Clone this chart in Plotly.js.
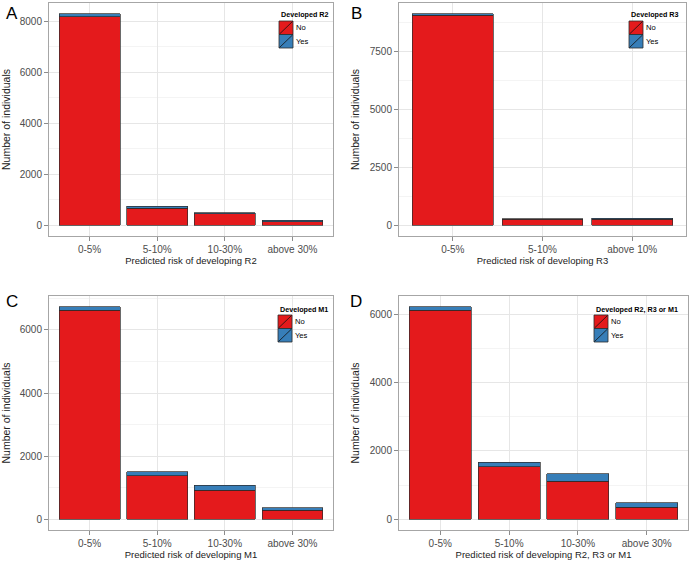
<!DOCTYPE html>
<html>
<head>
<meta charset="utf-8">
<script src="https://cdn.plot.ly/plotly-3.0.1.min.js"></script>
<style>html,body{margin:0;padding:0;background:#fff;}#chart{width:690px;height:561px;}</style>
</head>
<body>
<div id="chart"></div>
<script>
// ---- data ----
var catsA = ['0-5%', '5-10%', '10-30%', 'above 30%'];
var noA = [8180, 680, 450, 140];
var yesA = [120, 75, 45, 55];

var catsB = ['0-5%', '5-10%', 'above 10%'];
var noB = [9040, 265, 275];
var yesB = [80, 20, 25];

var catsC = ['0-5%', '5-10%', '10-30%', 'above 30%'];
var noC = [6620, 1380, 930, 295];
var yesC = [120, 125, 155, 75];

var catsD = ['0-5%', '5-10%', '10-30%', 'above 30%'];
var noD = [6110, 1530, 1120, 350];
var yesD = [105, 145, 210, 135];

var xTitles = ['Predicted risk of developing R2', 'Predicted risk of developing R3',
               'Predicted risk of developing M1', 'Predicted risk of developing R2, R3 or M1'];
var legendTitles = ['Developed R2', 'Developed R3', 'Developed M1', 'Developed R2, R3 or M1'];
var panelLetters = ['A', 'B', 'C', 'D'];
var yDticks = [2000, 2500, 2000, 2000];

// ---- styling ----
var RED = '#E41A1C', BLUE = '#377EB8', EDGE = '#2b2b2b';
var W = 690, H = 561;
function px(x) { return x / W; }
function py(y) { return 1 - y / H; }

var panels = [
  {cats: catsA, no: noA, yes: yesA, dom: [[49, 333], [3, 236]], leg: [279, 15], letter: [4, 13]},
  {cats: catsB, no: noB, yes: yesB, dom: [[399, 686], [3, 236]], leg: [629, 15], letter: [349, 13]},
  {cats: catsC, no: noC, yes: yesC, dom: [[49, 333], [296, 530]], leg: [278, 309], letter: [4, 301]},
  {cats: catsD, no: noD, yes: yesD, dom: [[399, 688], [296, 530]], leg: [594, 309], letter: [348, 301]}
];

var traces = [], shapes = [], annotations = [];
var layout = {
  width: W, height: H,
  margin: {l: 0, r: 0, t: 0, b: 0},
  paper_bgcolor: '#ffffff', plot_bgcolor: '#ffffff',
  barmode: 'stack', bargap: 0.1,
  showlegend: false,
  font: {family: 'Liberation Sans, Arial, sans-serif', color: '#000'}
};

panels.forEach(function (p, i) {
  var s = i === 0 ? '' : String(i + 1);
  var xa = 'x' + s, ya = 'y' + s;
  traces.push({type: 'bar', x: p.cats, y: p.no, name: 'No', xaxis: xa, yaxis: ya,
    marker: {color: RED, line: {color: EDGE, width: 0.7}}, hoverinfo: 'x+y+name'});
  traces.push({type: 'bar', x: p.cats, y: p.yes, name: 'Yes', xaxis: xa, yaxis: ya,
    marker: {color: BLUE, line: {color: EDGE, width: 0.7}}, hoverinfo: 'x+y+name'});

  var maxTot = 0;
  for (var k = 0; k < p.no.length; k++) maxTot = Math.max(maxTot, p.no[k] + p.yes[k]);
  var n = p.cats.length;

  layout['xaxis' + s] = {
    domain: [px(p.dom[0][0]), px(p.dom[0][1])],
    anchor: ya,
    type: 'category',
    range: [-0.6, n - 0.4],
    showgrid: true, gridcolor: '#e6e6e6', gridwidth: 1,
    showline: true, mirror: true, linecolor: '#a6a6a6', linewidth: 1,
    ticks: 'outside', ticklen: 4, tickcolor: '#8c8c8c', tickwidth: 1,
    tickfont: {size: 10, color: '#4d4d4d'},
    zeroline: false, fixedrange: true,
    title: {text: xTitles[i], font: {size: 9.5, color: '#222'}, standoff: 2}
  };
  layout['yaxis' + s] = {
    domain: [py(p.dom[1][1]), py(p.dom[1][0])],
    anchor: xa,
    range: [-0.05 * maxTot, 1.05 * maxTot],
    tick0: 0, dtick: yDticks[i], tickformat: 'd',
    showgrid: true, gridcolor: '#e6e6e6', gridwidth: 1,
    minor: {dtick: yDticks[i] / 2, showgrid: true, gridcolor: '#f4f4f4', gridwidth: 1, ticks: ''},
    showline: true, mirror: true, linecolor: '#a6a6a6', linewidth: 1,
    ticks: 'outside', ticklen: 4, tickcolor: '#8c8c8c', tickwidth: 1,
    tickfont: {size: 10, color: '#4d4d4d'},
    zeroline: false, fixedrange: true,
    title: {text: 'Number of individuals', font: {size: 10.5, color: '#222'}, standoff: 8}
  };

  // panel letter
  annotations.push({xref: 'paper', yref: 'paper', x: px(p.letter[0]), y: py(p.letter[1]),
    xanchor: 'left', yanchor: 'middle', showarrow: false, text: panelLetters[i],
    font: {size: 17, color: '#000'}});

  // manual legend (title + keys with slash)
  var lx = p.leg[0], ly = p.leg[1];
  annotations.push({xref: 'paper', yref: 'paper', x: px(lx), y: py(ly),
    xanchor: 'left', yanchor: 'middle', showarrow: false,
    text: '<b>' + legendTitles[i] + '</b>', font: {size: 7.2, color: '#000'}});
  var keys = [{c: RED, t: 'No'}, {c: BLUE, t: 'Yes'}];
  keys.forEach(function (kk, j) {
    var x0 = lx, x1 = lx + 14, y0 = ly + 6 + j * 13.5, y1 = y0 + 13.5;
    shapes.push({type: 'rect', xref: 'paper', yref: 'paper', x0: px(x0), x1: px(x1), y0: py(y1), y1: py(y0),
      fillcolor: kk.c, line: {color: EDGE, width: 0.8}});
    shapes.push({type: 'line', xref: 'paper', yref: 'paper', x0: px(x0 + 0.5), y0: py(y1 - 0.5), x1: px(x1 - 0.5), y1: py(y0 + 0.5),
      line: {color: '#111', width: 0.8}});
    annotations.push({xref: 'paper', yref: 'paper', x: px(x1 + 1), y: py((y0 + y1) / 2),
      xanchor: 'left', yanchor: 'middle', showarrow: false, text: kk.t,
      font: {size: 7.6, color: '#000'}});
  });
});

layout.shapes = shapes;
layout.annotations = annotations;

Plotly.newPlot('chart', traces, layout, {displayModeBar: false, staticPlot: false});
</script>
</body>
</html>
